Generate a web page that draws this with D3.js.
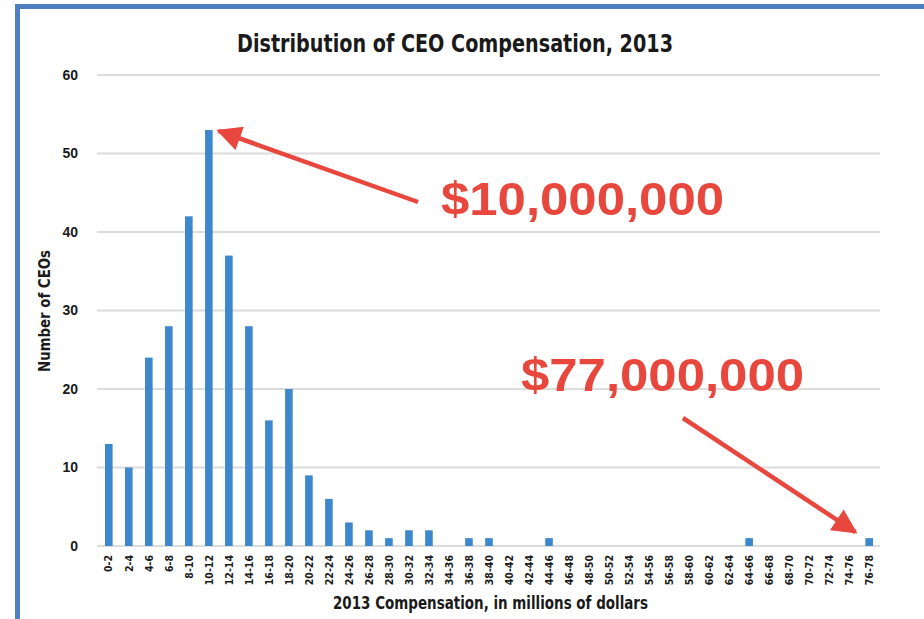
<!DOCTYPE html>
<html>
<head>
<meta charset="utf-8">
<script src="https://cdn.jsdelivr.net/npm/d3@7"></script>
<style>
  body { margin: 0; background: #fff; }
  text { font-family: "Liberation Sans Narrow", "DejaVu Sans Condensed", "Roboto", sans-serif; font-weight: bold; }
</style>
</head>
<body>
<svg></svg>
<script>

const ranges = ['0-2','2-4','4-6','6-8','8-10','10-12','12-14','14-16','16-18','18-20',
  '20-22','22-24','24-26','26-28','28-30','30-32','32-34','34-36','36-38','38-40',
  '40-42','42-44','44-46','46-48','48-50','50-52','52-54','54-56','56-58','58-60',
  '60-62','62-64','64-66','66-68','68-70','70-72','72-74','74-76','76-78']

const ceoCounts = [13, 10, 24, 28, 42, 53, 37, 28, 16, 20,
  9, 6, 3, 2, 1, 2, 2, 0, 1, 1,
  0, 0, 1, 0, 0, 0, 0, 0, 0, 0,
  0, 0, 1, 0, 0, 0, 0, 0, 1]

const yTicks = [0, 10, 20, 30, 40, 50, 60]

// callouts: label, bar it points at
const callouts = [
  { label: '$10,000,000', range: '10-12' },
  { label: '$77,000,000', range: '76-78' }
]

let width = 924, height = 619
let ink = '#1a1a1a'

let svg = d3.select('svg').attr('width', width).attr('height', height)

// blue frame (top + left edges visible)
svg.append('path')
  .attr('d', 'M17.5,' + height + ' V6.5 H' + width)
  .attr('fill', 'none')
  .attr('stroke', '#4f7fc0')
  .attr('stroke-width', 5)

let x = d3.scaleBand()
  .domain(ranges)
  .range([99, 879])
  .paddingInner(0.62)
  .paddingOuter(0.3)

let y = d3.scaleLinear()
  .domain([0, 60])
  .range([546, 75])

// grid
svg.append('g')
  .selectAll('line')
  .data(yTicks)
  .enter().append('line')
  .attr('x1', 97)
  .attr('x2', 880)
  .attr('y1', d => y(d))
  .attr('y2', d => y(d))
  .attr('stroke', '#dcdcdc')
  .attr('stroke-width', 2)

// y axis labels
let yAxis = svg.append('g')
  .attr('transform', 'translate(79,0)')
  .call(d3.axisLeft(y).tickValues(yTicks).tickSize(0).tickPadding(1))
yAxis.select('.domain').remove()
yAxis.selectAll('text')
  .style('font-family', '"Liberation Sans", Arial, sans-serif')
  .style('font-size', '14px')
  .style('fill', ink)

// bars
svg.append('g')
  .selectAll('rect')
  .data(ceoCounts)
  .enter().append('rect')
  .attr('x', (d, i) => x(ranges[i]))
  .attr('width', x.bandwidth())
  .attr('y', d => y(d))
  .attr('height', d => y(0) - y(d))
  .attr('fill', '#3d88cc')

// x axis labels
let xAxis = svg.append('g')
  .attr('transform', 'translate(0,553)')
  .call(d3.axisBottom(x).tickSize(0).tickPadding(0))
xAxis.select('.domain').remove()
xAxis.selectAll('text')
  .attr('transform', 'rotate(-90)')
  .attr('x', -2)
  .attr('y', 0)
  .attr('dy', '0.35em')
  .style('text-anchor', 'end')
  .style('font-size', '10.5px')
  .style('fill', ink)

// titles
svg.append('text')
  .attr('x', 237)
  .attr('y', 52)
  .attr('textLength', 436)
  .attr('lengthAdjust', 'spacingAndGlyphs')
  .style('font-size', '25px')
  .style('fill', ink)
  .text('Distribution of CEO Compensation, 2013')

svg.append('text')
  .attr('transform', 'translate(50,372) rotate(-90)')
  .attr('textLength', 122)
  .attr('lengthAdjust', 'spacingAndGlyphs')
  .style('font-size', '15px')
  .style('fill', ink)
  .text('Number of CEOs')

svg.append('text')
  .attr('x', 333)
  .attr('y', 609)
  .attr('textLength', 315)
  .attr('lengthAdjust', 'spacingAndGlyphs')
  .style('font-size', '18px')
  .style('fill', ink)
  .text('2013 Compensation, in millions of dollars')

// red callouts
let red = '#e8473d'

svg.append('defs').append('marker')
  .attr('id', 'head')
  .attr('viewBox', '0 0 10 10')
  .attr('refX', 9)
  .attr('refY', 5)
  .attr('markerWidth', 6)
  .attr('markerHeight', 5.5)
  .attr('orient', 'auto')
  .append('path')
  .attr('d', 'M0,0 L10,5 L0,10 Z')
  .attr('fill', red)

let c0 = callouts[0], c1 = callouts[1]
let i0 = ranges.indexOf(c0.range), i1 = ranges.indexOf(c1.range)

svg.append('text')
  .attr('x', 441)
  .attr('y', 215)
  .attr('textLength', 283)
  .attr('lengthAdjust', 'spacingAndGlyphs')
  .style('font-family', '"Liberation Sans", Arial, sans-serif')
  .style('font-size', '47px')
  .style('fill', red)
  .text(c0.label)

svg.append('line')
  .attr('x1', 418).attr('y1', 202)
  .attr('x2', x(ranges[i0]) + x.bandwidth() + 6)
  .attr('y2', y(ceoCounts[i0]) + 1)
  .attr('stroke', red)
  .attr('stroke-width', 4.5)
  .attr('marker-end', 'url(#head)')

svg.append('text')
  .attr('x', 521)
  .attr('y', 391)
  .attr('textLength', 283)
  .attr('lengthAdjust', 'spacingAndGlyphs')
  .style('font-family', '"Liberation Sans", Arial, sans-serif')
  .style('font-size', '47px')
  .style('fill', red)
  .text(c1.label)

svg.append('line')
  .attr('x1', 683).attr('y1', 418)
  .attr('x2', x(ranges[i1]) - 10)
  .attr('y2', y(ceoCounts[i1]) - 6)
  .attr('stroke', red)
  .attr('stroke-width', 4.5)
  .attr('marker-end', 'url(#head)')

</script>
</body>
</html>
